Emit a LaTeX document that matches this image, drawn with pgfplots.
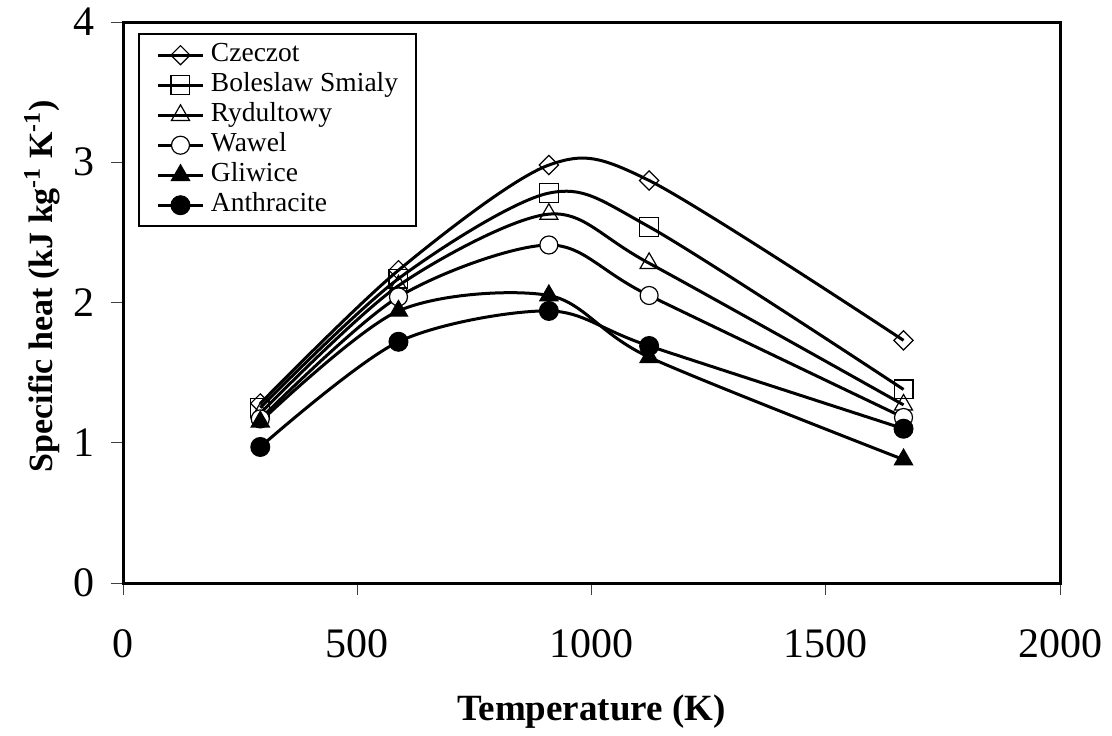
\documentclass[border=0pt]{standalone}
\usepackage{fontspec}
\setmainfont{Liberation Serif}
\usepackage{pgfplots}
\pgfplotsset{compat=1.18}

\begin{document}
\begin{tikzpicture}
\begin{axis}[
  scale only axis,
  width=468.5pt, height=280.5pt,
  xmin=0, xmax=2000, ymin=0, ymax=4,
  xtick={0,500,1000,1500,2000},
  ytick={0,1,2,3,4},
  xtick pos=bottom, ytick pos=left,
  tick align=outside,
  major tick length=6pt,
  tick style={line width=0.5pt, black!75},
  axis line style={line width=1.5pt},
  ticklabel style={font=\fontsize{21}{25}\selectfont, inner sep=0pt,
    /pgf/number format/assume math mode=true},
  /pgf/number format/1000 sep={},
  xticklabel style={anchor=base, yshift=-31pt},
  yticklabel style={anchor=east, xshift=-8pt},
  xlabel={Temperature (K)},
  ylabel={Specific heat (kJ kg\textsuperscript{-1} K\textsuperscript{-1})},
  every axis x label/.style={at={(axis description cs:0.5,-0.23)}, anchor=center,
    font=\fontsize{18.5}{22}\selectfont\bfseries},
  every axis y label/.style={at={(axis description cs:-0.0864,0.529)}, rotate=90, anchor=center,
    font=\fontsize{17}{20}\selectfont\bfseries},
  every axis plot/.append style={line width=1.5pt, black, smooth},
  legend image code/.code={%
    \draw[line width=1.5pt, mark repeat=2, mark phase=2]
      plot coordinates {(0pt,0pt) (11pt,0pt) (22pt,0pt)};},
  legend style={at={(0.016,0.98)}, anchor=north west, draw=black, line width=1pt,
    fill=white, inner xsep=9pt, inner ysep=3pt,
    font=\fontsize{13.75}{15}\selectfont,
    row sep=0pt, column sep=3.5pt,
    nodes={inner sep=0pt, text height=10.5pt, text depth=4.5pt}},
  legend cell align=left,
]
% Czeczot
\addplot[mark=square, mark size=3.4pt,
  mark options={rotate=45, fill=white, line width=0.6pt}]
  coordinates {(293,1.28) (588,2.23) (909,2.98) (1123,2.87) (1666,1.73)};
\addlegendentry{Czeczot}
% Boleslaw Smialy
\addplot[mark=square, mark size=4.7pt,
  mark options={fill=white, line width=0.6pt}]
  coordinates {(293,1.25) (588,2.17) (909,2.78) (1123,2.54) (1666,1.38)};
\addlegendentry{Boleslaw Smialy}
% Rydultowy
\addplot[mark=triangle, mark size=5.2pt,
  mark options={fill=white, line width=0.6pt}]
  coordinates {(293,1.21) (588,2.12) (909,2.63) (1123,2.28) (1666,1.27)};
\addlegendentry{Rydultowy}
% Wawel
\addplot[mark=*, mark size=4.5pt,
  mark options={fill=white, line width=0.6pt}]
  coordinates {(293,1.17) (588,2.04) (909,2.41) (1123,2.05) (1666,1.18)};
\addlegendentry{Wawel}
% Gliwice
\addplot[mark=triangle*, mark size=5.2pt,
  mark options={fill=black, line width=0.6pt}]
  coordinates {(293,1.15) (588,1.94) (909,2.05) (1123,1.61) (1666,0.88)};
\addlegendentry{Gliwice}
% Anthracite
\addplot[mark=*, mark size=4.7pt,
  mark options={fill=black, line width=0.6pt}]
  coordinates {(293,0.97) (588,1.72) (909,1.94) (1123,1.69) (1666,1.10)};
\addlegendentry{Anthracite}
\end{axis}
\pgfresetboundingbox
\path (current axis.south west) ++(-61.5pt,-76pt) rectangle ++(556pt,367.5pt);
\end{tikzpicture}
\end{document}
